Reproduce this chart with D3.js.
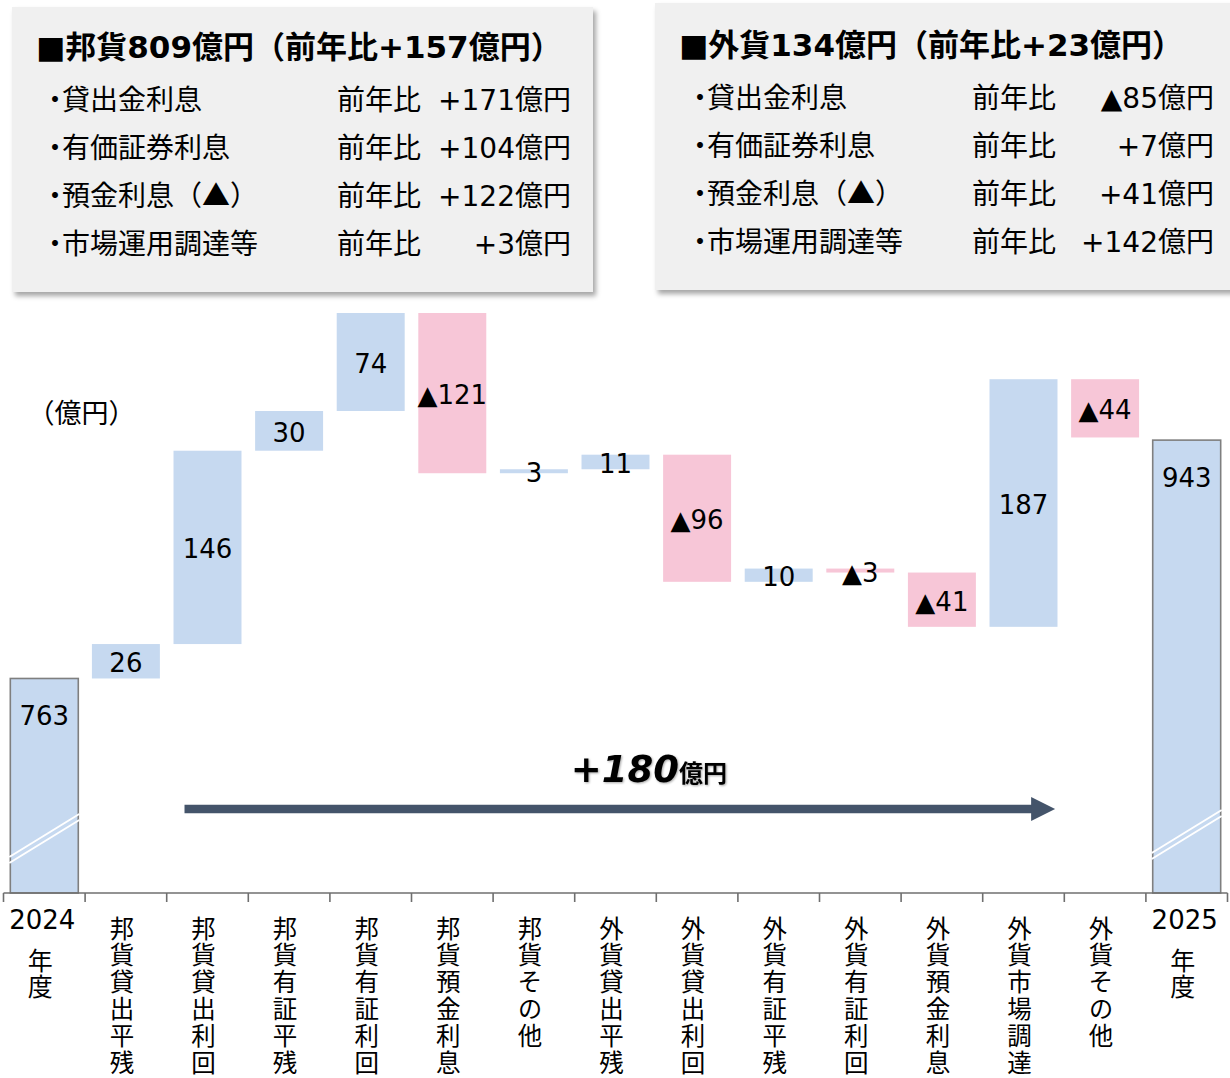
<!DOCTYPE html>
<html><head><meta charset="utf-8">
<script src="https://cdn.jsdelivr.net/npm/d3@7"></script>
<style>
body{margin:0;background:#fff}
svg text{font-family:"DejaVu Sans","Noto Sans CJK JP",sans-serif;fill:#000}
.jp{font-family:"Noto Sans CJK JP",sans-serif}
.halt{font-feature-settings:"halt" 1}
.vert{writing-mode:vertical-rl;text-orientation:upright}
</style></head><body>
<svg id="chart" width="1230" height="1078"></svg>
<script>
// Waterfall categories (first and last are year totals)
const categories = ["2024年度","邦貨貸出平残","邦貨貸出利回","邦貨有証平残","邦貨有証利回","邦貨預金利息","邦貨その他",
  "外貨貸出平残","外貨貸出利回","外貨有証平残","外貨有証利回","外貨預金利息","外貨市場調達","外貨その他","2025年度"];
const startTotal = 763;
const steps = [26, 146, 30, 74, -121, 3, 11, -96, 10, -3, -41, 187, -44];
const endTotal = 943;
const totalChange = "+180";

// Summary panels
const itemNames = ["貸出金利息","有価証券利息","預金利息（▲）","市場運用調達等"];
const domesticTitle = "■邦貨809億円（前年比+157億円）";
const domesticDiffs = ["+171","+104","+122","+3"];
const foreignTitle = "■外貨134億円（前年比+23億円）";
const foreignDiffs = ["▲85","+7","+41","+142"];

const BLUE = "#c6d9f0", PINK = "#f7c6d7", AXIS = "#6f6f6f", ARROW = "#44546a";
const svg = d3.select("#chart");

const defs = svg.append("defs");
const sh = defs.append("filter").attr("id","boxShadow").attr("x","-5%").attr("y","-5%").attr("width","115%").attr("height","120%");
sh.append("feDropShadow").attr("dx",3).attr("dy",4).attr("stdDeviation",2.5).attr("flood-color","#000").attr("flood-opacity",0.35);
const glow = defs.append("filter").attr("id","textShadow");
glow.append("feDropShadow").attr("dx",1).attr("dy",1).attr("stdDeviation",1.2).attr("flood-color","#000").attr("flood-opacity",0.35);

// Build waterfall rows
const rows = [];
let run = startTotal;
rows.push({cat: categories[0], lo: 0, hi: startTotal, v: startTotal, total: true});
steps.forEach((s, i) => {
  const a = run, b = run + s;
  rows.push({cat: categories[i + 1], lo: Math.min(a, b), hi: Math.max(a, b), v: s, total: false});
  run = b;
});
rows.push({cat: categories[categories.length - 1], lo: 0, hi: endTotal, v: endTotal, total: true});

const x = d3.scaleBand().domain(categories).range([3.5, 1227.5]).paddingInner(0.167).paddingOuter(0.0835);
const y = d3.scaleLinear().domain([601, 1039]).range([893, 313]);
const yBase = y.range()[0];
const fmt = v => v < 0 ? "▲" + Math.abs(v) : String(v);

// Panels
function panel(x0, y0, w, h, title, diffs, tx, titleBase, itemX, itemBase, colX, valRight) {
  const g = svg.append("g");
  g.append("rect").attr("x", x0).attr("y", y0).attr("width", w).attr("height", h)
    .attr("fill", "#f0f0f0").attr("filter", "url(#boxShadow)");
  g.append("text").attr("x", tx).attr("y", titleBase).attr("font-size", 31).attr("font-weight", "bold").text(title);
  itemNames.forEach((n, i) => {
    const by = itemBase + i * 48;
    const t = g.append("text").attr("x", itemX).attr("y", by).attr("font-size", 28).attr("class", "jp");
    t.append("tspan").attr("class", "halt").text("・");
    t.append("tspan").text(n);
    g.append("text").attr("x", colX).attr("y", by).attr("font-size", 28).attr("class", "jp").text("前年比");
    const vt = g.append("text").attr("x", valRight).attr("y", by).attr("font-size", 28).attr("text-anchor", "end");
    vt.append("tspan").text(diffs[i]);
    vt.append("tspan").attr("class", "jp").text("億円");
  });
}
panel(12, 7, 581, 285, domesticTitle, domesticDiffs, 36, 58, 48, 110, 337, 571);
panel(655, 3, 590, 287, foreignTitle, foreignDiffs, 679, 56, 693, 108, 972, 1214);

// Unit label
svg.append("text").attr("x", 41).attr("y", 423).attr("font-size", 27).attr("class", "jp halt").text("（億円）");

// Bars
const bars = svg.append("g");
rows.forEach(r => {
  const x0 = x(r.cat), bw = x.bandwidth();
  if (r.total) {
    const top = y(r.hi);
    bars.append("rect").attr("x", x0).attr("y", top).attr("width", bw).attr("height", yBase - top)
      .attr("fill", BLUE).attr("stroke", "#7f7f7f").attr("stroke-width", 1.6);
    // axis-break marks
    [0, 6].forEach(off => {
      bars.append("line").attr("x1", x0 - 1).attr("x2", x0 + bw + 1)
        .attr("y1", yBase - 36 + off - (r.cat === categories[0] ? 0 : 4))
        .attr("y2", yBase - 79 + off - (r.cat === categories[0] ? 0 : 4))
        .attr("stroke", "#fff").attr("stroke-width", 2);
    });
    bars.append("text").attr("x", x0 + bw / 2).attr("y", top + 38).attr("font-size", 26)
      .attr("text-anchor", "middle").attr("dominant-baseline", "central").text(fmt(r.v));
  } else {
    const top = y(r.hi), bot = y(r.lo);
    bars.append("rect").attr("x", x0).attr("y", top).attr("width", bw).attr("height", Math.max(bot - top, 1))
      .attr("fill", r.v < 0 ? PINK : BLUE);
    bars.append("text").attr("x", x0 + bw / 2).attr("y", (top + bot) / 2 + 2).attr("font-size", 26)
      .attr("text-anchor", "middle").attr("dominant-baseline", "central").text(fmt(r.v));
  }
});

// Category axis with ticks at band boundaries
const ax = svg.append("g");
const r0 = x.range();
ax.append("line").attr("x1", r0[0]).attr("x2", r0[1]).attr("y1", yBase).attr("y2", yBase)
  .attr("stroke", AXIS).attr("stroke-width", 1.6);
const bounds = categories.map(c => x(c) + x.bandwidth() / 2 - x.step() / 2).concat([r0[1]]);
bounds.forEach(b => ax.append("line").attr("x1", b).attr("x2", b).attr("y1", yBase).attr("y2", yBase + 9)
  .attr("stroke", AXIS).attr("stroke-width", 1.6));

categories.forEach(c => {
  const cx = x(c) + x.bandwidth() / 2 - 4;
  const m = c.match(/^(\d{4})(.*)$/);
  if (m) {
    ax.append("text").attr("x", cx + 2).attr("y", 920).attr("font-size", 26).attr("text-anchor", "middle")
      .attr("dominant-baseline", "central").text(m[1]);
    ax.append("text").attr("class", "jp vert").attr("x", cx).attr("y", 948).attr("font-size", 25)
      .attr("letter-spacing", 1).text(m[2]);
  } else {
    ax.append("text").attr("class", "jp vert").attr("x", cx).attr("y", 916).attr("font-size", 24.5)
      .attr("letter-spacing", 2.3).text(c);
  }
});

// Overall change arrow
const ax0 = x(categories[2]) + 11, ax1 = x(categories[13]) - 16, ay = 809;
svg.append("line").attr("x1", ax0).attr("x2", ax1 - 22).attr("y1", ay).attr("y2", ay)
  .attr("stroke", ARROW).attr("stroke-width", 8.5);
svg.append("path").attr("d", `M${ax1 - 24},${ay - 12} L${ax1},${ay} L${ax1 - 24},${ay + 12} Z`).attr("fill", ARROW);

const ct = svg.append("text").attr("x", (ax0 + ax1) / 2 + 29).attr("y", 782).attr("text-anchor", "middle")
  .attr("font-weight", "bold").attr("filter", "url(#textShadow)");
ct.append("tspan").attr("font-size", 37).attr("font-style", "italic").text(totalChange);
ct.append("tspan").attr("font-size", 24).attr("class", "jp").text("億円");
</script>
</body></html>
